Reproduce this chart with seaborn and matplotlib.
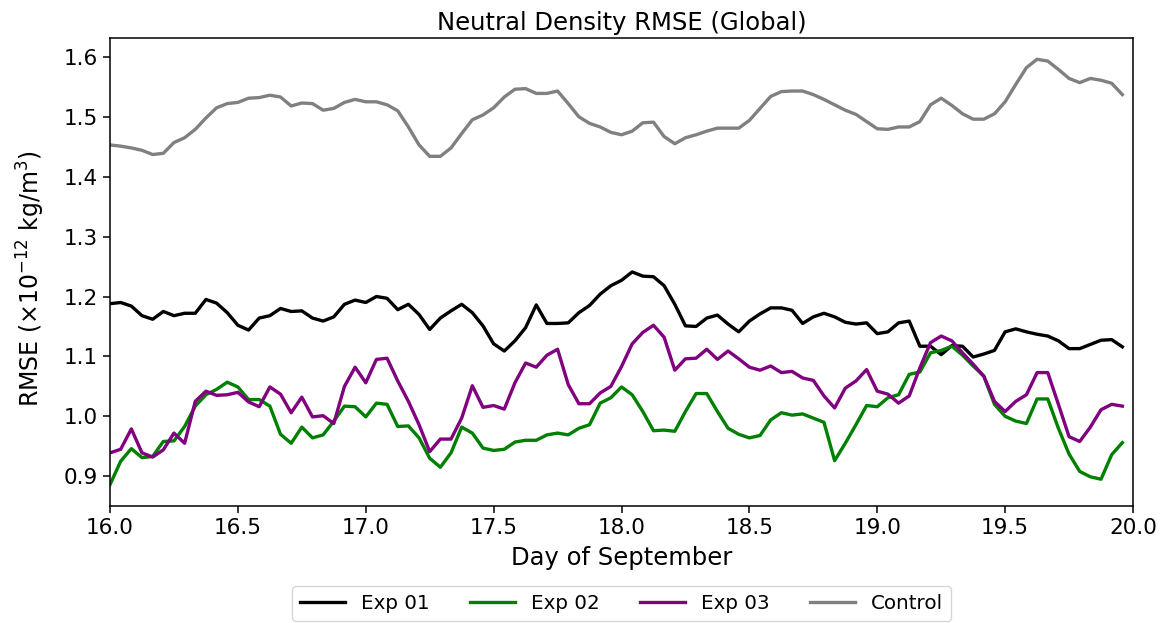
import numpy as np
import pandas as pd
import matplotlib
matplotlib.use("Agg")
import matplotlib.pyplot as plt
import seaborn as sns

hours = np.arange(96)
days = 16 + hours / 24.0

exp01 = [1.188,1.190,1.184,1.168,1.162,1.175,1.168,1.172,1.172,1.195,1.189,1.173,1.152,1.144,1.164,1.168,1.180,1.175,1.176,1.164,1.159,1.166,1.187,1.194,1.190,
         1.200,1.197,1.178,1.187,1.170,1.145,1.164,1.176,1.187,1.173,1.151,1.121,1.109,1.126,1.148,1.186,1.155,1.155,1.156,1.173,1.185,1.204,1.218,1.227,
         1.241,1.234,1.233,1.218,1.187,1.151,1.150,1.164,1.169,1.154,1.141,1.159,1.171,1.181,1.181,1.177,1.155,1.166,1.172,1.166,1.157,1.154,1.156,1.138,
         1.141,1.156,1.159,1.117,1.117,1.103,1.118,1.117,1.099,1.104,1.110,1.141,1.146,1.141,1.137,1.134,1.126,1.113,1.113,1.120,1.127,1.128,1.116]

exp02 = [0.886,0.925,0.946,0.931,0.933,0.958,0.959,0.983,1.017,1.036,1.045,1.057,1.049,1.028,1.028,1.017,0.970,0.955,0.982,0.964,0.969,0.992,1.017,1.016,0.999,
         1.022,1.020,0.983,0.984,0.964,0.930,0.915,0.939,0.982,0.972,0.947,0.943,0.945,0.957,0.960,0.960,0.969,0.972,0.969,0.980,0.986,1.022,1.031,1.049,
         1.036,1.008,0.976,0.977,0.975,1.008,1.038,1.038,1.008,0.980,0.970,0.964,0.968,0.994,1.006,1.002,1.004,0.997,0.990,0.926,0.955,0.986,1.018,1.016,
         1.031,1.036,1.070,1.074,1.106,1.110,1.117,1.102,1.084,1.067,1.020,1.000,0.992,0.988,1.029,1.029,0.980,0.937,0.908,0.899,0.895,0.936,0.956]

exp03 = [0.939,0.945,0.979,0.939,0.932,0.944,0.972,0.955,1.025,1.042,1.035,1.036,1.040,1.024,1.016,1.049,1.037,1.006,1.032,0.999,1.001,0.988,1.050,1.082,1.056,
         1.095,1.097,1.059,1.025,0.986,0.941,0.962,0.962,0.997,1.051,1.015,1.018,1.012,1.056,1.089,1.082,1.102,1.112,1.053,1.021,1.021,1.039,1.050,1.083,
         1.121,1.140,1.152,1.132,1.077,1.096,1.097,1.112,1.095,1.109,1.096,1.082,1.077,1.084,1.073,1.075,1.064,1.060,1.034,1.014,1.047,1.059,1.078,1.042,
         1.037,1.022,1.034,1.081,1.123,1.134,1.126,1.106,1.087,1.067,1.025,1.008,1.025,1.036,1.073,1.073,1.020,0.966,0.958,0.982,1.011,1.020,1.017]

control = [1.453,1.451,1.448,1.444,1.437,1.439,1.457,1.465,1.479,1.498,1.515,1.522,1.524,1.531,1.532,1.536,1.533,1.518,1.523,1.522,1.511,1.514,1.524,1.529,1.525,
           1.525,1.520,1.510,1.483,1.453,1.434,1.434,1.448,1.472,1.495,1.503,1.515,1.533,1.546,1.547,1.539,1.539,1.543,1.522,1.500,1.489,1.483,1.474,1.470,
           1.476,1.490,1.491,1.467,1.455,1.465,1.470,1.476,1.481,1.481,1.481,1.494,1.514,1.534,1.542,1.543,1.543,1.537,1.529,1.520,1.511,1.504,1.492,1.480,
           1.479,1.483,1.483,1.492,1.520,1.531,1.519,1.505,1.496,1.496,1.505,1.525,1.554,1.582,1.596,1.593,1.579,1.564,1.557,1.564,1.561,1.556,1.537]

labels = ["Exp 01", "Exp 02", "Exp 03", "Control"]
colors = ["black", "green", "purple", "gray"]

frames = []
for lab, vals in zip(labels, [exp01, exp02, exp03, control]):
    frames.append(pd.DataFrame({"day": days, "rmse": vals, "series": lab}))
df = pd.concat(frames, ignore_index=True)

fig = plt.figure(figsize=(11.63, 6.23), dpi=100)
ax = fig.add_axes([0.0946, 0.188, 0.8796, 0.751])

sns.lineplot(data=df, x="day", y="rmse", hue="series", hue_order=labels,
             palette=dict(zip(labels, colors)), linewidth=2.4, ax=ax)

ax.set_xlim(16, 20)
ax.set_xticks([16.0, 16.5, 17.0, 17.5, 18.0, 18.5, 19.0, 19.5, 20.0])
ax.set_xticklabels(["16.0", "16.5", "17.0", "17.5", "18.0", "18.5", "19.0", "19.5", "20.0"])
ax.set_yticks([0.9, 1.0, 1.1, 1.2, 1.3, 1.4, 1.5, 1.6])
ax.set_yticklabels(["0.9", "1.0", "1.1", "1.2", "1.3", "1.4", "1.5", "1.6"])
ax.tick_params(labelsize=15.5, length=5, width=1.1)
for s in ax.spines.values():
    s.set_linewidth(1.1)
ax.set_xlabel("Day of September", fontsize=17.5, labelpad=6)
ax.set_ylabel(r"RMSE ($\times10^{-12}$ kg/m$^3$)", fontsize=17)
ax.yaxis.set_label_coords(-0.062, 0.485)
ax.set_title("Neutral Density RMSE (Global)", fontsize=17.5)

ax.legend(loc="upper center", bbox_to_anchor=(0.5, -0.15), ncol=4,
          fontsize=14.3, frameon=True, handlelength=2.3, columnspacing=2.0)

fig.savefig("out.png", dpi=100)
